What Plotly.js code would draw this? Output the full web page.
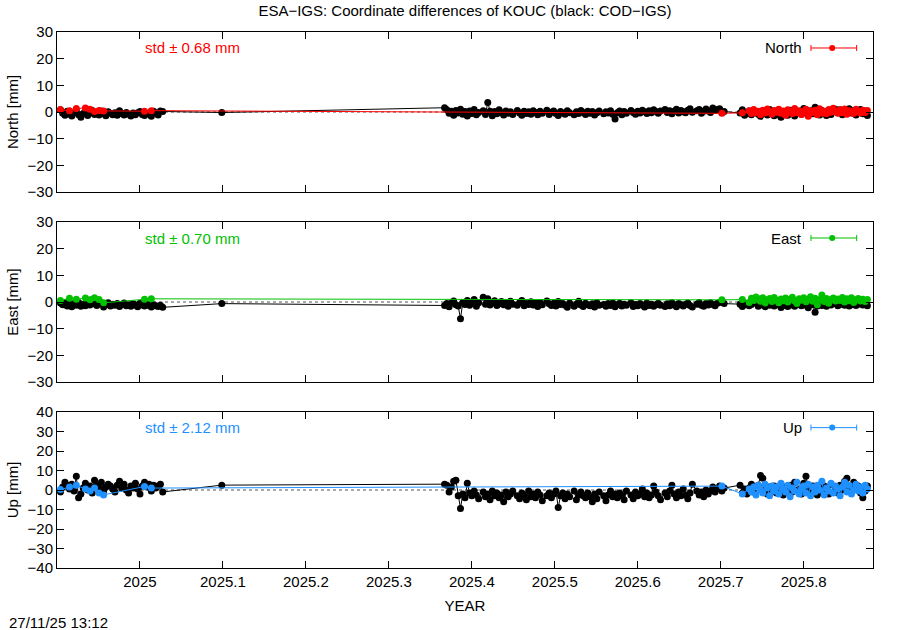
<!DOCTYPE html>
<html><head><meta charset="utf-8">
<script src="https://cdn.plot.ly/plotly-3.0.1.min.js"></script>
<style>html,body{margin:0;padding:0;background:#fff;}#chart{width:900px;height:630px;}</style>
</head><body><div id="chart"></div>
<script>
// Reference epoch: day offsets counted from 2025.0 (decimal year = 2025 + day/365)
const epochYear = 2025;
const daysPerYear = 365;

// ---- Black series (COD-IGS) ----
const blackDays = [
  -35,-34,-33,-32,-31,-30,-29,-28,-27,-26,-25,-24,-23,-22,-21,-20,-19,-18,-17,-16,-15,-14,-13,-12,-11,-10,-9,-8,-7,-6,-5,-4,-3,-2,-1,0,1,2,3,4,5,6,7,8,9,10,
  36,
  134,135,136,137,138,139,140,141,142,143,
  144,145,146,147,148,149,151,152,153,154,
  155,156,157,158,159,160,161,162,163,164,
  166,167,168,169,170,171,172,173,174,175,
  176,177,179,180,181,182,183,184,185,186,
  187,188,189,191,192,193,194,195,196,197,
  198,199,200,201,202,204,205,206,207,208,
  209,210,211,212,213,214,216,217,218,219,
  220,221,222,223,224,225,226,227,228,229,
  231,232,233,234,235,236,237,238,239,240,
  241,242,243,245,246,247,248,249,250,251,
  252,253,254,255,256,257,264,265,266,267,
  268,269,270,272,273,274,275,276,277,278,
  279,280,281,282,283,284,285,286,287,288,
  290,291,292,293,294,295,296,297,298,299,
  300,301,302,303,304,306,307,308,309,310,
  311,312,313,314,315,316,317,318,319,320
];
const blackNorth = [
  0.8,-0.5,-1.2,0.3,-0.8,-1.5,-0.3,0.5,-1.0,-2.0,-0.6,0.2,-1.3,-0.4,0.6,-0.9,-0.2,-1.1,0.4,-0.7,-1.4,0.1,-0.5,-1.0,-0.3,-1.2,0.5,-0.6,-1.1,-0.2,-0.8,-1.5,-0.4,-1.0,-0.3,0.2,-0.9,-1.3,-0.5,-0.8,-1.6,0.3,-0.4,-1.1,0.4,0.2,
  -0.2,
  1.6,0.8,-0.5,0.3,-1.2,0.6,-0.4,1.0,-0.8,0.2,
  -1.5,0.4,-0.6,0.9,-1.0,-0.2,0.5,-0.9,3.6,0.3,
  -1.4,0.2,-0.7,0.8,-0.3,-1.1,0.4,-0.5,0.1,-0.9,
  0.6,-0.4,-1.2,0.3,-0.6,0.1,-0.8,0.5,-0.2,-1.0,
  0.3,-0.5,0.7,-0.9,-0.1,0.4,-0.6,-1.3,0.2,-0.4,
  -0.8,0.5,-0.3,-1.0,0.1,-0.6,0.6,-0.2,-0.9,0.3,
  -0.5,0.2,-1.1,-0.3,0.4,-0.7,0.1,-0.4,0.5,-0.8,
  -2.6,-0.3,0.4,-1.0,0.2,-0.5,0.6,-0.2,-0.8,0.3,
  -0.4,0.7,0.1,-0.6,0.5,-0.3,0.8,0.2,-0.5,0.4,
  0.9,-0.2,0.5,-0.7,0.3,1.0,-0.4,0.6,0.1,-0.3,
  0.7,1.2,-0.1,0.5,0.9,-0.5,0.3,1.1,0.4,-0.2,
  1.5,0.6,0.9,1.2,-0.3,0.2,-0.4,0.8,-1.2,-0.6,
  0.4,-1.0,0.2,-0.8,-1.6,0.5,-0.3,-1.1,0.9,-0.5,
  -1.4,0.3,-0.9,-2.0,0.1,-0.6,-1.2,0.7,-0.4,-1.5,
  0.2,-0.8,1.3,-0.3,-1.0,0.5,-0.7,1.8,-0.2,-1.1,
  0.6,-0.5,-1.3,0.4,-0.9,1.0,-0.3,0.8,-1.0,0.2,
  -0.6,1.2,-0.4,0.5,-1.1,0.3,0.9,-0.7,0.4,-1.3
];
const blackEast = [
  -0.5,-1.0,-0.3,-1.5,-0.8,-1.8,-0.6,-1.2,-0.2,-1.6,-0.9,-1.4,-0.4,-1.1,0.8,-0.7,-1.3,0.4,-0.5,-1.9,-1.0,-0.3,-1.5,-0.8,-1.2,-0.6,-1.7,-0.9,-0.4,-1.4,-1.0,-1.6,-0.7,-1.2,-1.8,-0.5,-1.1,-1.5,-0.8,-1.3,-1.9,-1.0,-1.4,-1.7,-1.2,-2.0,
  -0.6,
  -1.3,-0.6,-1.8,-0.4,0.4,-1.0,-1.5,-6.3,-0.2,-0.9,
  0.6,-1.2,-0.5,0.9,-1.6,-0.3,1.8,-0.8,1.2,-1.1,
  -0.4,0.5,-1.3,-0.7,0.2,-1.0,-0.5,-1.6,0.3,-0.8,
  -1.2,-0.3,0.6,-1.4,-0.6,-0.9,0.1,-1.1,-0.4,-1.7,
  -0.2,-1.0,0.4,-0.7,-1.3,-0.5,-1.5,0.2,-0.9,-0.6,
  -1.2,-2.0,-0.4,-1.6,-0.8,0.3,-1.1,-1.7,-0.5,-1.0,
  -1.4,-0.7,-1.9,-0.3,-1.2,-0.9,-1.6,-0.6,-1.3,-0.4,
  -1.8,-1.0,-0.5,-1.5,-0.8,-1.2,-0.3,-1.7,-0.9,-1.4,
  -0.6,-1.1,-1.9,-0.4,-1.3,-0.8,-1.6,-1.0,-0.5,-1.2,
  -1.7,-0.7,-1.4,-0.3,-1.1,-1.8,-0.6,-1.0,-1.5,-0.9,
  -0.4,-1.3,-1.9,-0.8,-0.2,-1.2,-1.6,-0.6,-1.1,-0.3,
  -0.9,-1.4,-0.5,-0.2,0.4,-0.6,-0.8,-1.7,-1.0,-0.5,
  -1.4,-0.9,-0.3,-1.6,-1.1,-0.4,-1.8,-0.7,-1.2,-0.5,
  -1.5,-0.8,-1.0,-2.1,-0.6,-1.3,-1.7,-0.4,-1.1,-1.6,
  -0.9,-1.4,-0.5,-1.2,-2.2,-0.7,-1.0,-3.8,-1.5,-0.6,
  -1.3,-0.8,-1.6,-0.3,-1.1,-0.6,-1.4,-0.9,-0.4,-1.2,
  -0.7,-1.5,-1.0,-0.5,-1.3,-0.8,-0.3,-1.1,-0.6,-1.4
];
const blackUp = [
  -1.0,1.5,4.0,2.5,0.5,3.0,-0.5,7.0,-4.0,-2.0,1.0,3.5,0.0,2.0,-1.5,5.0,2.5,1.0,4.0,-0.5,1.5,3.0,2.0,0.5,-1.0,2.5,4.5,1.0,3.0,0.0,-1.5,2.0,1.0,3.5,0.5,-2.0,2.0,4.0,1.5,3.0,-0.5,2.5,1.0,2.0,3.0,-1.0,
  2.5,
  3.0,2.5,-1.0,1.5,4.5,5.0,-3.0,-9.5,-2.0,-4.0,
  3.5,-1.5,-3.0,-0.5,-2.5,-4.5,-1.0,-3.5,-2.0,-5.0,
  -0.5,-3.0,-1.5,-4.0,-2.5,-6.0,-1.0,-3.5,-2.0,-0.5,
  -3.0,-4.5,-1.5,-2.5,-5.0,-0.5,-3.5,-2.0,-4.0,-1.0,
  -2.5,-5.5,-3.0,-1.5,-4.0,-2.0,-0.5,-9.0,-3.0,-1.5,
  -4.5,-2.0,-3.5,-0.5,-5.0,-2.5,-1.0,-3.0,-4.0,-1.5,
  -3.5,-6.0,-2.0,-4.5,-1.0,-3.0,-5.5,-2.5,-0.5,-3.5,
  -2.0,-4.0,-1.5,-3.0,-5.0,-0.5,-2.5,-4.5,-1.0,-3.0,
  -2.0,0.5,-3.5,-1.5,-4.0,-2.5,2.0,-1.0,-3.0,-5.0,
  -1.5,-3.5,-0.5,2.5,-2.0,-4.0,-1.0,-3.0,0.5,-2.5,
  -4.5,-1.5,3.0,-0.5,-2.5,-1.0,-3.5,0.0,-2.0,-0.5,
  1.5,-1.0,0.5,2.0,-0.5,1.0,2.5,-1.5,0.5,-2.0,
  1.0,3.0,-1.0,2.5,7.5,6.0,0.5,-2.0,1.5,-0.5,
  2.0,-1.5,0.0,3.0,-2.5,1.0,-0.5,2.5,-1.0,4.0,
  0.5,-2.0,3.5,7.0,1.0,-1.5,2.0,-0.5,-2.5,1.5,
  -1.0,2.0,0.5,-2.0,3.0,1.0,-1.5,2.5,0.0,4.5,
  6.0,1.5,-1.0,4.0,0.5,2.0,-1.5,-4.0,-0.5,2.0
];

// ---- Coloured series (ESA-IGS) ----
const colorDays = [
  -35,-31,-28,-24,-22,-20,-18,-16,2,5,
  256,
  265,268,269,270,271,272,273,274,275,276,
  277,278,279,280,281,282,283,284,285,286,
  287,288,289,290,291,292,293,294,295,296,
  297,298,299,300,301,302,303,304,305,306,
  307,308,309,310,311,312,313,314,315,316,
  317,318,319,320
];
const esaNorth = [
  0.8,0.5,1.3,1.5,1.0,0.2,0.6,0.4,0.3,0.5,
  -0.5,
  -0.3,0.5,-0.6,0.9,-0.2,0.3,-1.0,0.7,-0.4,1.1,
  0.2,-0.8,0.6,-0.1,1.0,-0.5,0.4,-1.2,0.8,0.1,
  -0.6,1.3,-0.3,0.5,-0.9,0.2,1.0,-1.6,0.4,-0.2,
  0.7,-1.0,1.2,-0.4,0.3,-0.7,0.9,-0.1,1.4,0.2,
  -0.5,0.8,-0.3,1.1,-0.8,0.5,0.0,-0.6,1.0,0.3,
  -0.4,0.7,-0.2,0.6
];
const esaEast = [
  0.6,1.4,1.0,1.5,0.8,1.6,0.9,-0.3,1.0,1.2,
  0.8,
  0.9,-0.2,1.4,0.6,1.9,1.2,0.3,1.6,-0.4,0.8,
  1.3,0.2,1.7,0.7,-0.3,1.1,0.5,1.5,0.0,1.0,
  1.8,0.4,-0.6,1.2,0.7,1.6,0.1,0.9,2.0,0.3,
  1.4,-1.0,0.8,2.6,0.2,1.3,-0.5,0.9,1.5,0.4,
  1.1,0.6,1.7,0.0,1.2,0.5,1.6,-0.2,0.8,1.3,
  0.4,1.0,0.2,0.9
];
const esaUp = [
  0.2,1.5,2.5,0.5,-0.5,1.0,-1.5,-2.5,1.8,1.0,
  2.0,
  -2.0,0.5,-1.0,1.5,-2.5,2.5,0.0,-1.5,3.0,1.0,
  -3.0,2.0,-0.5,1.5,-2.0,3.5,0.5,-1.0,2.5,-3.5,
  1.0,-0.5,4.0,-2.0,0.5,2.0,-1.5,3.0,-3.0,1.5,
  -1.0,2.5,0.0,4.5,-2.5,1.0,-0.5,3.5,-1.5,2.0,
  0.5,-3.0,1.5,4.0,-1.0,2.5,-2.0,0.0,3.0,-0.5,
  1.5,-1.5,2.5,0.5
];

const components = ['North', 'East', 'Up'];
const stdValues = [0.68, 0.70, 2.12];
const yRanges = [[-30, 30], [-30, 30], [-40, 40]];
const yDtick = [10, 10, 10];
const xTickVals = [2025, 2025.1, 2025.2, 2025.3, 2025.4, 2025.5, 2025.6, 2025.7, 2025.8];
const xTickText = ['2025', '2025.1', '2025.2', '2025.3', '2025.4', '2025.5', '2025.6', '2025.7', '2025.8'];
const xRange = [2024.9, 2025.8835];
const titleText = 'ESA\u2212IGS: Coordinate differences of KOUC (black: COD\u2212IGS)';
const stampText = '27/11/25 13:12';

const colors = ['#ff0000', '#00c000', '#1e90ff'];
const toYear = d => epochYear + d / daysPerYear;
const xBlack = blackDays.map(toYear);
const xColor = colorDays.map(toYear);
const blackSeries = [blackNorth, blackEast, blackUp];
const esaSeries = [esaNorth, esaEast, esaUp];

const font = 'Liberation Sans, Arial, sans-serif';
const fs = 15;
const domains = [[0.7015, 1], [0.347, 0.6455], [0, 0.291]];

const traces = [];
const layout = {
  width: 900, height: 630,
  margin: {l: 57, r: 27, t: 32, b: 62},
  paper_bgcolor: '#fff', plot_bgcolor: '#fff',
  showlegend: false,
  font: {family: font, size: fs, color: '#000'},
  title: {text: titleText, x: 0.5, xref: 'paper', y: 1 - 11/630, yref: 'container', yanchor: 'middle',
          font: {family: font, size: fs, color: '#000'}},
  shapes: [], annotations: []
};

components.forEach((c, i) => {
  const n = i === 0 ? '' : String(i + 1);
  const xa = 'x' + n, ya = 'y' + n;
  traces.push({
    x: xBlack, y: blackSeries[i], xaxis: xa, yaxis: ya, type: 'scatter', mode: 'lines+markers',
    line: {color: '#000', width: 1}, marker: {color: '#000', size: 7, symbol: 'circle'},
    hoverinfo: 'skip', cliponaxis: true
  });
  traces.push({
    x: xColor, y: esaSeries[i], xaxis: xa, yaxis: ya, type: 'scatter', mode: 'lines+markers',
    line: {color: colors[i], width: 1}, marker: {color: colors[i], size: 7, symbol: 'circle'},
    hoverinfo: 'skip', cliponaxis: true
  });
  layout['xaxis' + n] = {
    domain: [0, 1], anchor: ya, range: xRange, tickmode: 'array', tickvals: xTickVals,
    ticktext: xTickText, showticklabels: i === 2, ticks: 'inside', ticklen: 7, tickcolor: '#000',
    showline: true, linecolor: '#000', linewidth: 1, mirror: 'ticks', showgrid: false, zeroline: false,
    tickfont: {family: font, size: fs, color: '#000'},
    title: i === 2 ? {text: 'YEAR', standoff: 11, font: {family: font, size: fs, color: '#000'}} : {text: ''}
  };
  layout['yaxis' + n] = {
    domain: domains[i], anchor: xa, range: yRanges[i], dtick: yDtick[i], tick0: 0,
    ticks: 'inside', ticklen: 7, tickcolor: '#000', showline: true, linecolor: '#000', linewidth: 1,
    mirror: 'ticks', showgrid: false, zeroline: false,
    tickfont: {family: font, size: fs, color: '#000'},
    title: {text: c + ' [mm]', standoff: 5, font: {family: font, size: fs, color: '#000'}}
  };
  // dotted zero line
  layout.shapes.push({type: 'line', xref: xa + ' domain', yref: ya, x0: 0, x1: 1, y0: 0, y1: 0,
    line: {color: '#555', width: 1, dash: 'dot'}, layer: 'below'});
  // std annotation
  layout.annotations.push({xref: xa + ' domain', yref: ya + ' domain', x: 0.105, y: 0.9,
    xanchor: 'left', yanchor: 'middle', showarrow: false,
    text: 'std \u00b1 ' + stdValues[i].toFixed(2) + ' mm', font: {family: font, size: fs, color: colors[i]}});
  // legend label
  layout.annotations.push({xref: xa + ' domain', yref: ya + ' domain', x: 0.916, y: 0.9,
    xanchor: 'right', yanchor: 'middle', showarrow: false,
    text: c, font: {family: font, size: fs, color: '#000'}});
  // legend error-bar symbol
  const hpx = (domains[i][1] - domains[i][0]) * 536;
  const capH = 3 / hpx, ly = 0.9;
  const lx0 = 0.924, lx1 = 0.980, lxc = 0.950;
  layout.shapes.push({type: 'line', xref: xa + ' domain', yref: ya + ' domain', x0: lx0, x1: lx1, y0: ly, y1: ly, line: {color: colors[i], width: 1}});
  layout.shapes.push({type: 'line', xref: xa + ' domain', yref: ya + ' domain', x0: lx0, x1: lx0, y0: ly - capH, y1: ly + capH, line: {color: colors[i], width: 1}});
  layout.shapes.push({type: 'line', xref: xa + ' domain', yref: ya + ' domain', x0: lx1, x1: lx1, y0: ly - capH, y1: ly + capH, line: {color: colors[i], width: 1}});
  layout.shapes.push({type: 'circle', xref: xa + ' domain', yref: ya + ' domain', x0: lxc - 3/816, x1: lxc + 3/816, y0: ly - capH, y1: ly + capH, fillcolor: colors[i], line: {color: colors[i], width: 0}});
});

layout.annotations.push({xref: 'paper', yref: 'paper', x: -50/816, y: -54/536, xanchor: 'left', yanchor: 'middle',
  showarrow: false, text: stampText, font: {family: font, size: fs, color: '#000'}});

Plotly.newPlot('chart', traces, layout, {staticPlot: true, displayModeBar: false});
</script></body></html>
